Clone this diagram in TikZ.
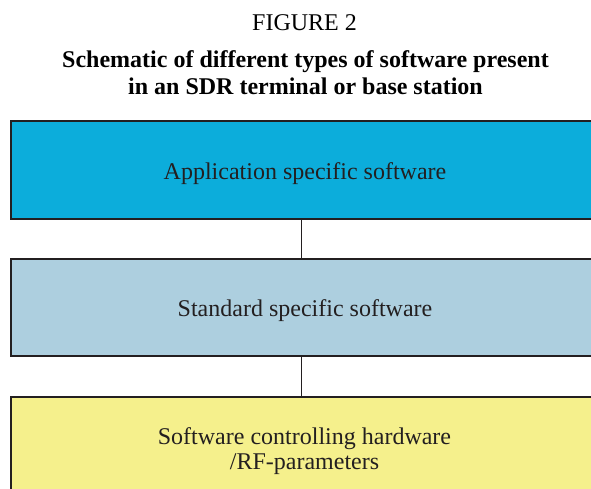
\documentclass[tikz,border=0pt]{standalone}
\usepackage{fontspec}
\setmainfont{Liberation Serif}
\definecolor{appblue}{RGB}{12,173,219}
\definecolor{stdblue}{RGB}{173,207,223}
\definecolor{hwyellow}{RGB}{245,240,140}
\definecolor{edge}{RGB}{35,31,32}
\tikzset{
  layer/.style={draw=edge, line width=2pt, minimum width=582.5pt, inner sep=0pt},
  link/.style={draw=edge, line width=1.3pt},
  caption/.style={font=\fontsize{24}{28}\selectfont, text=black, inner sep=0pt, anchor=base},
  title/.style={caption, font=\fontsize{24}{28}\selectfont\bfseries},
  boxtext/.style={caption, text=edge}
}
\begin{document}
\begin{tikzpicture}[x=1pt,y=1pt]
  \useasboundingbox (0,0) rectangle (591,-488);
  \begin{scope}
    \clip (0,0) rectangle (591,-488);
    % three stacked software layers
    \node[layer, fill=appblue, minimum height=98pt] (app) at (301.75,-170) {};
    \node[layer, fill=stdblue, minimum height=97pt] (std) at (301.75,-307.5) {};
    \node[layer, fill=hwyellow, minimum height=104pt, anchor=north] (hw) at (301.75,-396) {};
    \draw[link] (app.south) -- (std.north);
    \draw[link] (std.south) -- (hw.north);
  \end{scope}
  % headings
  \node[caption] (fig) at (304.5,-30) {FIGURE 2};
  \node[title] (ttl1) at (305.5,-67.3) {Schematic of different types of software present};
  \node[title] (ttl2) at (305.5,-94.5) {in an SDR terminal or base station};
  % layer labels, set on their baselines
  \node[boxtext] (appl) at (305,-179.3) {Application specific software};
  \node[boxtext] (stdl) at (305,-316.7) {Standard specific software};
  \node[boxtext] (hw1) at (304.5,-444.3) {Software controlling hardware};
  \node[boxtext] (hw2) at (304.5,-469.3) {/RF-parameters};
\end{tikzpicture}
\end{document}
